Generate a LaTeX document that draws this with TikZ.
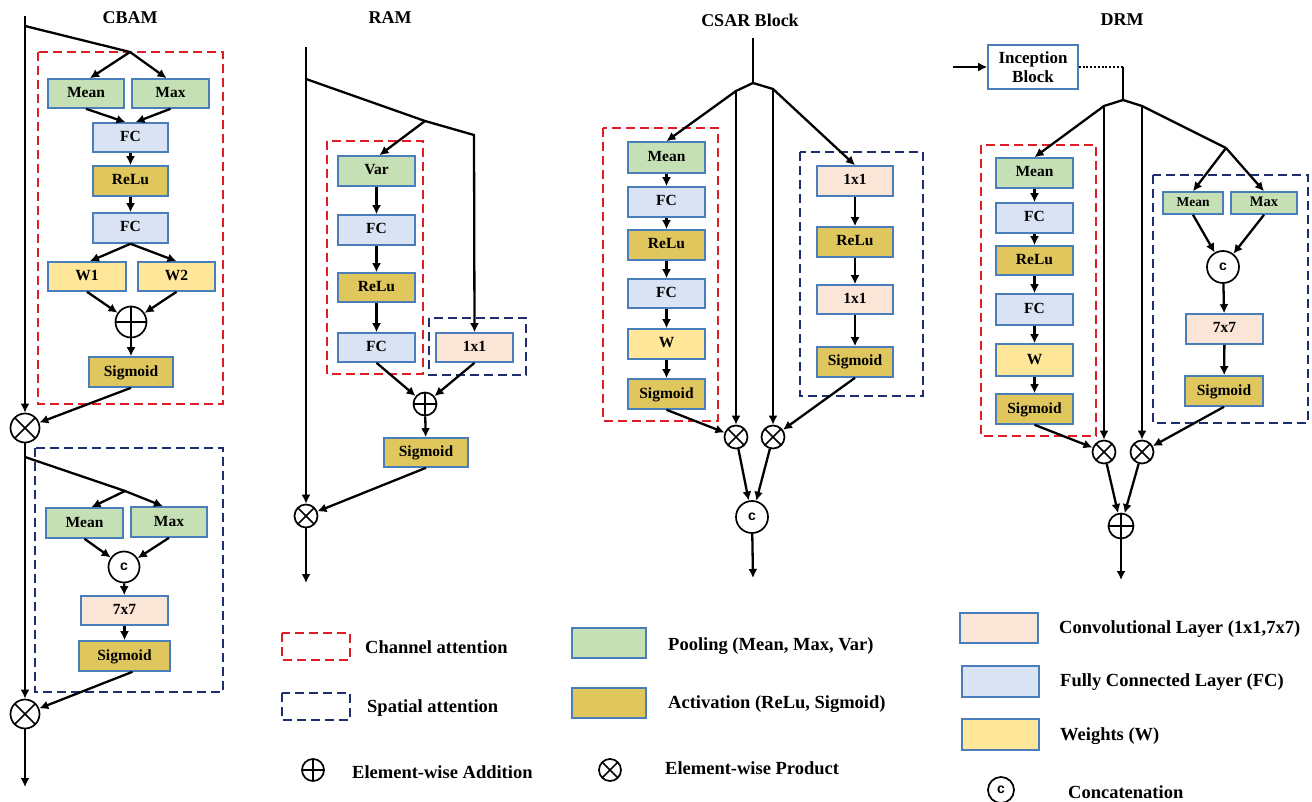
\documentclass[tikz,border=0pt]{standalone}
\usepackage{fontspec}
\setmainfont{Liberation Serif}
\newfontfamily\cfont{Liberation Sans}
\usetikzlibrary{arrows.meta,calc}
\definecolor{pool}{RGB}{197,224,180}
\definecolor{act}{RGB}{223,199,94}
\definecolor{fcc}{RGB}{218,227,243}
\definecolor{wt}{RGB}{255,230,153}
\definecolor{conv}{RGB}{251,229,214}
\definecolor{bdr}{RGB}{74,126,187}
\definecolor{redd}{RGB}{222,30,36}
\definecolor{blued}{RGB}{30,45,110}
\newcommand\mybox[7]{\node[blk,fill=#6,minimum width={(#4)-(#2)},minimum height={(#5)-(#3)}] (#1) at ({((#2)+(#4))/2},{((#3)+(#5))/2}) {#7};}
\begin{document}
\begin{tikzpicture}[x=1pt,y=-1pt,
 blk/.style={draw=bdr,line width=1.6pt,inner sep=0pt,font=\fontsize{15.5}{15.5}\selectfont\bfseries,text height=10.5pt,text depth=2.5pt},
 ln/.style={line width=2.3pt},
 conn/.style={line width=2.3pt,-{Latex[length=9pt,width=9pt]}},
 rbox/.style={draw=redd,line width=2.4pt,dash pattern=on 9pt off 5pt},
 bbox/.style={draw=blued,line width=2.4pt,dash pattern=on 9pt off 5pt},
 ttl/.style={font=\fontsize{18}{18}\selectfont\bfseries},
 lgt/.style={anchor=west,inner sep=0pt,font=\fontsize{18.5}{18.5}\selectfont\bfseries},
 otim/.style={circle,draw,line width=1.7pt,fill=white,inner sep=0pt,minimum size=#1,path picture={\draw[line width=1.7pt] (path picture bounding box.north west)--(path picture bounding box.south east) (path picture bounding box.north east)--(path picture bounding box.south west);}},
 opl/.style={circle,draw,line width=1.7pt,fill=white,inner sep=0pt,minimum size=#1,path picture={\draw[line width=1.7pt] (path picture bounding box.north)--(path picture bounding box.south) (path picture bounding box.west)--(path picture bounding box.east);}},
 conc/.style={circle,draw,line width=1.7pt,fill=white,inner sep=0pt,minimum size=#1,font=\cfont\fontsize{14}{14}\selectfont\bfseries},
]
\useasboundingbox (0,0) rectangle (1312,802);

% ================= CBAM =================
\node[ttl] (tcbam) at (130,18) {CBAM};
\coordinate (cbin) at (25,16);
\coordinate (cbb1) at (25,26);
\coordinate (cbf1) at (130,52);
\draw[rbox] (38,52) rectangle (223,404);
\mybox{mean1}{48}{79}{124}{108}{pool}{Mean}
\mybox{max1}{132}{79}{209}{108}{pool}{Max}
\mybox{fc1}{93}{123}{168}{152}{fcc}{FC}
\mybox{relu1}{93}{166}{168}{196}{act}{ReLu}
\mybox{fc2}{93}{213}{168}{243}{fcc}{FC}
\mybox{w1}{48}{262}{126}{291}{wt}{W1}
\mybox{w2}{138}{262}{215}{291}{wt}{W2}
\node[opl=31pt] (a1) at (131,322) {};
\mybox{sig1}{89}{357}{173}{387}{act}{Sigmoid}
\node[otim=29pt] (x1) at (25,428) {};
\draw[conn] (cbin) -- (x1);
\draw[ln] (cbb1) -- (cbf1);
\draw[conn] (cbf1) -- ($(mean1.north)+(4,0)$);
\draw[conn] (cbf1) -- ($(max1.north)+(-4,0)$);
\draw[conn] (mean1.south) -- ($(fc1.north)+(-5,0)$);
\draw[conn] (max1.south) -- ($(fc1.north)+(5,0)$);
\draw[conn] (fc1) -- (relu1);
\draw[conn] (relu1) -- (fc2);
\draw[conn] (fc2.south) -- ($(w1.north)+(3,0)$);
\draw[conn] (fc2.south) -- (w2.north);
\draw[conn] (w1.south) -- (a1);
\draw[conn] (w2.south) -- (a1);
\draw[conn] (a1) -- (sig1);
\draw[conn] (sig1.south) -- (x1);

\draw[bbox] (35,448) rectangle (223,692);
\coordinate (cbb2) at (25,457);
\coordinate (cbf2) at (125,491);
\mybox{mean2}{46}{508}{123}{538}{pool}{Mean}
\mybox{max2}{131}{507}{207}{537}{pool}{Max}
\node[conc=31pt] (c1) at (124,567) {c};
\mybox{conv1}{81}{596}{168}{625}{conv}{7x7}
\mybox{sig2}{79}{641}{170}{671}{act}{Sigmoid}
\node[otim=29pt] (x2) at (25,714) {};
\coordinate (cbout) at (25,787);
\draw[conn] (x1) -- (x2);
\draw[conn] (cbb2) -- (cbf2) -- ($(max2.north)+(-6,0)$);
\draw[conn] (cbf2) -- ($(mean2.north)+(7,0)$);
\draw[conn] (mean2.south) -- (c1);
\draw[conn] (max2.south) -- (c1);
\draw[conn] (c1) -- (conv1);
\draw[conn] (conv1) -- (sig2);
\draw[conn] ($(sig2.south)+(8,0)$) -- (x2);
\draw[conn] (x2) -- (cbout);

% ================= RAM =================
\node[ttl] (tram) at (390,18) {RAM};
\coordinate (ramin) at (306,47);
\coordinate (ramb) at (306,79);
\coordinate (ramf) at (425,121);
\coordinate (ramk) at (474,135);
\coordinate (ramout) at (306,583);
\draw[rbox] (327,141) rectangle (423,374);
\draw[bbox] (429,318) rectangle (526,375);
\mybox{var}{338}{156}{415}{186}{pool}{Var}
\mybox{fc3}{338}{215}{415}{245}{fcc}{FC}
\mybox{relu3}{338}{273}{415}{302}{act}{ReLu}
\mybox{fc4}{338}{333}{415}{362}{fcc}{FC}
\mybox{r11}{436}{333}{513}{362}{conv}{1x1}
\node[opl=23pt] (a2) at (425,404) {};
\mybox{sig3}{384}{438}{468}{467}{act}{Sigmoid}
\node[otim=23pt] (x3) at (306,516) {};
\draw[conn] (ramin) -- (x3);
\draw[conn] (ramb) -- (ramf) -- (ramk) -- (r11.north);
\draw[conn] (ramf) -- ($(var.north)+(3,0)$);
\draw[conn] (var) -- (fc3);
\draw[conn] (fc3) -- (relu3);
\draw[conn] (relu3) -- (fc4);
\draw[conn] (fc4.south) -- (a2);
\draw[conn] (r11.south) -- (a2);
\draw[conn] (a2) -- (sig3);
\draw[conn] (sig3.south) -- (x3);
\draw[conn] (x3) -- (ramout);

% ================= CSAR =================
\node[ttl] (tcsar) at (750,20) {CSAR Block};
\coordinate (csin) at (753,38);
\coordinate (csf) at (753,83);
\coordinate (csl) at (736,91);
\coordinate (csr) at (773,89);
\coordinate (csout) at (753,578);
\draw[rbox] (603,128) rectangle (718,421);
\draw[bbox] (800,152) rectangle (923,396);
\mybox{meanC}{628}{142}{705}{173}{pool}{Mean}
\mybox{fcC1}{628}{187}{705}{217}{fcc}{FC}
\mybox{reluC}{628}{230}{705}{260}{act}{ReLu}
\mybox{fcC2}{628}{279}{705}{308}{fcc}{FC}
\mybox{wC}{628}{329}{705}{359}{wt}{W}
\mybox{sigC}{628}{379}{705}{409}{act}{Sigmoid}
\mybox{caa}{817}{166}{893}{196}{conv}{1x1}
\mybox{reluC2}{817}{227}{893}{257}{act}{ReLu}
\mybox{cab}{817}{285}{893}{314}{conv}{1x1}
\mybox{sigC2}{817}{347}{893}{377}{act}{Sigmoid}
\node[otim=23pt] (xcl) at (736,437) {};
\node[otim=23pt] (xcr) at (773,437) {};
\node[conc=32pt] (cc) at (752,517) {c};
\draw[ln] (csin) -- (csf);
\draw[conn] (csf) -- (csl) -- (meanC.north);
\draw[conn] (csl) -- (xcl);
\draw[conn] (csf) -- (csr) -- (caa.north);
\draw[conn] (csr) -- (xcr);
\draw[conn] (meanC) -- (fcC1);
\draw[conn] (fcC1) -- (reluC);
\draw[conn] (reluC) -- (fcC2);
\draw[conn] (fcC2) -- (wC);
\draw[conn] (wC) -- (sigC);
\draw[conn] (caa) -- (reluC2);
\draw[conn] (reluC2) -- (cab);
\draw[conn] (cab) -- (sigC2);
\draw[conn] (sigC.south) -- (xcl);
\draw[conn] (sigC2.south) -- (xcr);
\draw[conn] (xcl) -- (cc);
\draw[conn] (xcr) -- (cc);
\draw[conn] (cc) -- (csout);

% ================= DRM =================
\node[ttl] (tdrm) at (1122,20) {DRM};
\node[draw=bdr,line width=1.6pt,fill=white,minimum width=90pt,minimum height=44pt,align=center,inner sep=0pt,font=\fontsize{17}{19}\selectfont\bfseries] (inc) at (1033,67) {Inception\\Block};
\coordinate (drmin) at (953,67);
\coordinate (drd) at (1123,67);
\coordinate (drf) at (1123,100);
\coordinate (drl) at (1104,106);
\coordinate (drr) at (1142,106);
\coordinate (drk) at (1226,148);
\coordinate (drout) at (1121,580);
\draw[rbox] (981,145) rectangle (1096,436);
\draw[bbox] (1153,175) rectangle (1308,423);
\mybox{meanD}{996}{158}{1073}{188}{pool}{Mean}
\mybox{fcD1}{996}{203}{1073}{233}{fcc}{FC}
\mybox{reluD}{996}{246}{1073}{275}{act}{ReLu}
\mybox{fcD2}{996}{294}{1073}{325}{fcc}{FC}
\mybox{wD}{996}{344}{1073}{376}{wt}{W}
\mybox{sigD}{996}{394}{1073}{424}{act}{Sigmoid}
\mybox{meanDD}{1163}{192}{1223}{214}{pool}{\fontsize{13.5}{13.5}\selectfont Mean}
\mybox{maxD}{1231}{192}{1297}{214}{pool}{\fontsize{14.5}{14.5}\selectfont Max}
\node[conc=32pt] (cD) at (1223,267) {c};
\mybox{convD}{1186}{314}{1263}{344}{conv}{7x7}
\mybox{sigDD}{1185}{376}{1263}{406}{act}{Sigmoid}
\node[otim=23pt] (xdl) at (1104,452) {};
\node[otim=23pt] (xdr) at (1142,452) {};
\node[opl=25pt] (a3) at (1121,526) {};
\draw[conn] (drmin) -- (inc.west);
\draw[line width=1.6pt,dash pattern=on 2pt off 1.8pt] (inc.east) -- (drd);
\draw[ln] (drd) -- (drf);
\draw[conn] (drf) -- (drl) -- (meanD.north);
\draw[conn] (drl) -- (xdl);
\draw[ln] (drf) -- (drr) -- (drk);
\draw[conn] (drr) -- (xdr);
\draw[conn] (drk) -- (meanDD.north);
\draw[conn] (drk) -- (maxD.north);
\draw[conn] (meanD) -- (fcD1);
\draw[conn] (fcD1) -- (reluD);
\draw[conn] (reluD) -- (fcD2);
\draw[conn] (fcD2) -- (wD);
\draw[conn] (wD) -- (sigD);
\draw[conn] (meanDD.south) -- (cD);
\draw[conn] (maxD.south) -- (cD);
\draw[conn] (cD) -- (convD);
\draw[conn] (convD) -- (sigDD);
\draw[conn] (sigD.south) -- (xdl);
\draw[conn] (sigDD.south) -- (xdr);
\draw[conn] (xdl) -- (a3);
\draw[conn] (xdr) -- (a3);
\draw[conn] (a3) -- (drout);

% ================= Legend =================
\draw[rbox] (282,633) rectangle (350,660);
\node[lgt] (lca) at (365,647) {Channel attention};
\draw[bbox] (282,693) rectangle (350,720);
\node[lgt] (lsa) at (367,708) {Spatial attention};
\node[opl=22pt] (la) at (313,770) {};
\node[lgt] (lat) at (352,772) {Element-wise Addition};
\mybox{lpool}{572}{628}{646}{658}{pool}{}
\node[lgt] (lpt) at (668,646) {Pooling (Mean, Max, Var)};
\mybox{lact}{572}{688}{646}{718}{act}{}
\node[lgt] (lact2) at (668,704) {Activation (ReLu, Sigmoid)};
\node[otim=22pt] (lx) at (610,770) {};
\node[lgt] (lxt) at (665,768) {Element-wise Product};
\mybox{lconv}{960}{613}{1038}{643}{conv}{}
\node[lgt] (lct) at (1059,629) {Convolutional Layer (1x1,7x7)};
\mybox{lfc}{962}{666}{1039}{697}{fcc}{}
\node[lgt] (lft) at (1060,682) {Fully Connected Layer (FC)};
\mybox{lw}{962}{719}{1039}{750}{wt}{}
\node[lgt] (lwt) at (1060,736) {Weights (W)};
\node[conc=26pt] (lc) at (1001,790) {c};
\node[lgt] (lcat) at (1068,792) {Concatenation};
\end{tikzpicture}
\end{document}
